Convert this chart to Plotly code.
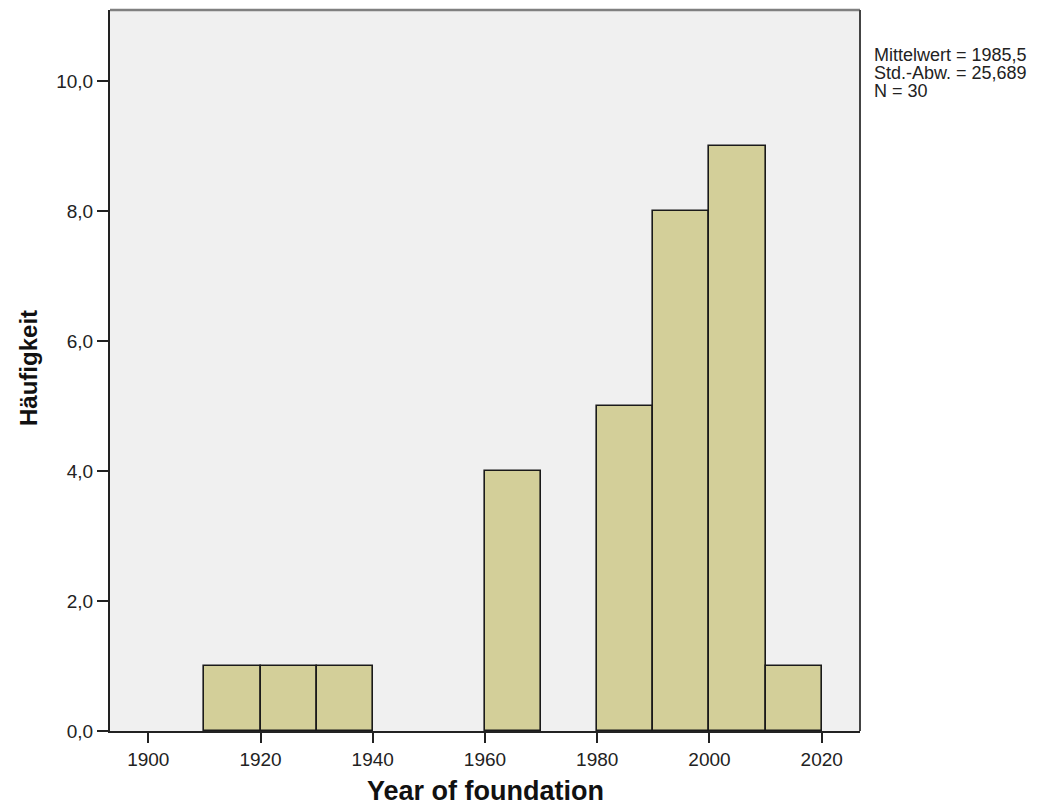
import plotly.graph_objects as go

bin_starts = [1910, 1920, 1930, 1960, 1980, 1990, 2000, 2010]
counts = [1, 1, 1, 4, 5, 8, 9, 1]
bin_width = 10
x_ticks = [1900, 1920, 1940, 1960, 1980, 2000, 2020]
y_ticks = [0, 2, 4, 6, 8, 10]
stats_lines = ["Mittelwert = 1985,5", "Std.-Abw. = 25,689", "N = 30"]
x_title = "Year of foundation"
y_title = "Häufigkeit"

font = "Liberation Sans, Arial, sans-serif"

fig = go.Figure()
fig.add_trace(go.Bar(
    x=[s + bin_width / 2 for s in bin_starts],
    y=counts,
    width=[bin_width] * len(bin_starts),
    marker=dict(color="#D3CF99", line=dict(color="#1a1a1a", width=1.6)),
    hoverinfo="x+y",
))

# page body has an 8px margin, so the figure is sized to fill the rest of the window
fig.update_layout(
    width=1043, height=797,
    margin=dict(l=102, r=191, t=2, b=74),
    paper_bgcolor="white",
    plot_bgcolor="#F0F0F0",
    separators=",.",
    showlegend=False,
    bargap=0,
    font=dict(family=font, color="#222"),
)
fig.update_xaxes(
    range=[1893.18, 2026.82],
    tickvals=x_ticks, tickformat="d",
    ticks="outside", ticklen=10, tickcolor="#222", tickwidth=1.8,
    showline=True, linecolor="#222", linewidth=2,
    showgrid=False, zeroline=False,
    tickfont=dict(size=19, family=font, color="#222"),
)
fig.update_yaxes(
    range=[0, 11.10],
    tickvals=y_ticks, tickformat=".1f",
    ticks="outside", ticklen=11, tickcolor="#222", tickwidth=1.8,
    showline=True, linecolor="#222", linewidth=2,
    showgrid=False, zeroline=False,
    tickfont=dict(size=19, family=font, color="#222"),
)
# frame top / right
fig.add_shape(type="line", xref="paper", yref="paper", x0=0, x1=1, y0=1, y1=1,
              line=dict(color="#808080", width=2.5))
fig.add_shape(type="line", xref="paper", yref="paper", x0=1, x1=1, y0=0, y1=1,
              line=dict(color="#444", width=2))

# axis titles
fig.add_annotation(xref="paper", yref="paper", x=0.5, y=-0.0832,
                   xanchor="center", yanchor="middle", showarrow=False,
                   text="<b>" + x_title + "</b>",
                   font=dict(size=27, family=font, color="#111"))
fig.add_annotation(xref="paper", yref="paper", x=-0.108, y=0.5035,
                   xanchor="center", yanchor="middle", showarrow=False, textangle=-90,
                   text="<b>" + y_title + "</b>",
                   font=dict(size=24, family=font, color="#111"))

# statistics box
stat_y = [0.9380, 0.9130, 0.8880]
for line, yy in zip(stats_lines, stat_y):
    fig.add_annotation(
        xref="paper", yref="paper", x=1.016, y=yy, xanchor="left", yanchor="middle",
        text=line, showarrow=False, align="left",
        font=dict(size=18, family=font, color="#222"),
    )

fig.write_html("out.html")
